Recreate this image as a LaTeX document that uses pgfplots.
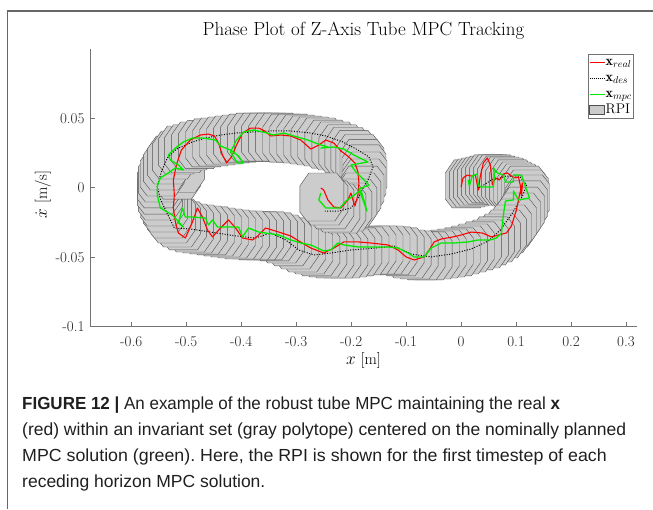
\documentclass[border=0pt]{standalone}
\usepackage{pgfplots}
\pgfplotsset{compat=1.18}
\usepackage{fontspec}
\newfontfamily\capfont{Liberation Sans}

\definecolor{rpigray}{RGB}{204,204,204}
\definecolor{rpiedge}{RGB}{80,80,80}
\definecolor{mpcgreen}{RGB}{0,235,0}

% octagonal RPI set drawn around each nominal state (about 0.08 m x 0.034 m/s)
\pgfdeclareplotmark{rpi}{%
  \pgfpathmoveto{\pgfqpoint{-22pt}{11pt}}%
  \pgfpathlineto{\pgfqpoint{-13pt}{24pt}}%
  \pgfpathlineto{\pgfqpoint{15pt}{24pt}}%
  \pgfpathlineto{\pgfqpoint{22pt}{15pt}}%
  \pgfpathlineto{\pgfqpoint{22pt}{-11pt}}%
  \pgfpathlineto{\pgfqpoint{13pt}{-24pt}}%
  \pgfpathlineto{\pgfqpoint{-15pt}{-24pt}}%
  \pgfpathlineto{\pgfqpoint{-22pt}{-15pt}}%
  \pgfpathclose
  \pgfusepathqfillstroke}

\begin{document}
\frenchspacing
\begin{tikzpicture}
\path[use as bounding box] (0,0) rectangle (653pt,509pt);
\draw[black!60, line width=1.2pt] (7.5pt,0pt) -- (7.5pt,498pt) -- (653pt,498pt);

\begin{axis}[
  at={(90pt,182.3pt)}, anchor=south west,
  scale only axis, width=547pt, height=278pt,
  xmin=-0.675, xmax=0.32, ymin=-0.1, ymax=0.1,
  clip marker paths=true,
  axis x line*=bottom, axis y line*=left,
  axis line style={black!55, line width=0.6pt},
  tick align=inside, major tick length=5pt,
  every tick/.style={black!55, line width=0.6pt},
  xtick={-0.6,-0.5,-0.4,-0.3,-0.2,-0.1,0,0.1,0.2,0.3},
  xticklabels={-0.6,-0.5,-0.4,-0.3,-0.2,-0.1,0,0.1,0.2,0.3},
  ytick={-0.1,-0.05,0,0.05},
  yticklabels={-0.1,-0.05,0,0.05},
  ticklabel style={font=\fontsize{15}{15}\selectfont, text=black!85},
  xticklabel style={anchor=base, yshift=-20pt},
  yticklabel style={anchor=east, xshift=-2pt},
  title={Phase Plot of Z-Axis Tube MPC Tracking},
  title style={font=\fontsize{19}{19}\selectfont, at={(axis description cs:0.5,1)}, anchor=base, yshift=7.5pt},
  xlabel={$x$ [m]},
  xlabel style={font=\fontsize{16}{16}\selectfont, at={(axis description cs:0.5,0)}, anchor=base, yshift=-38pt},
  ylabel={$\dot{x}$ [m/s]},
  ylabel style={font=\fontsize{16}{16}\selectfont, at={(axis description cs:-0.086,0.476)}, anchor=center},
  legend image code/.code={\draw[#1] (0pt,0pt) -- (15pt,0pt);},
  legend cell align=left,
  legend style={at={(axis description cs:0.9927,0.981)}, anchor=north east,
    draw=black!55, line width=0.5pt, fill=white,
    font=\fontsize{14}{14}\selectfont, inner xsep=0.5pt, inner ysep=1pt, row sep=2pt,
    nodes={inner sep=0.5pt, text height=10pt, text depth=3pt},
    /tikz/every even column/.append style={column sep=0pt}},
]

% RPI tube: one set per receding-horizon solve
\addplot[only marks, mark=rpi, mark options={fill=rpigray, draw=rpiedge, line width=0.4pt}, forget plot] table {
x y
0.0113 0.0027
0.0186 0.0034
0.0259 0.0041
0.0332 0.0048
0.0405 0.0055
0.0478 0.0063
0.0551 0.0063
0.0624 0.0063
0.0697 0.0055
0.0770 0.0048
0.0843 0.0041
0.0916 0.0027
0.0989 0.0012
0.1062 -0.0002
0.1135 -0.0017
0.1190 -0.0045
0.1208 -0.0081
0.1172 -0.0124
0.1117 -0.0168
0.1044 -0.0211
0.0971 -0.0254
0.0880 -0.0297
0.0788 -0.0333
0.0679 -0.0362
0.0569 -0.0383
0.0460 -0.0405
0.0332 -0.0419
0.0204 -0.0434
0.0077 -0.0448
-0.0051 -0.0462
-0.0179 -0.0470
-0.0307 -0.0477
-0.0434 -0.0484
-0.0562 -0.0491
-0.0690 -0.0491
-0.0818 -0.0484
-0.0945 -0.0477
-0.1073 -0.0462
-0.1201 -0.0455
-0.1329 -0.0448
-0.1456 -0.0448
-0.1584 -0.0448
-0.1712 -0.0455
-0.1840 -0.0462
-0.1967 -0.0470
-0.2095 -0.0477
-0.2223 -0.0477
-0.2351 -0.0477
-0.2478 -0.0470
-0.2606 -0.0462
-0.2734 -0.0448
-0.2862 -0.0434
-0.2989 -0.0412
-0.3117 -0.0390
-0.3245 -0.0369
-0.3373 -0.0354
-0.3501 -0.0347
-0.3628 -0.0347
-0.3756 -0.0347
-0.3884 -0.0340
-0.4012 -0.0340
-0.4139 -0.0333
-0.4267 -0.0326
-0.4395 -0.0319
-0.4522 -0.0311
-0.4650 -0.0304
-0.4778 -0.0297
-0.4906 -0.0290
-0.5033 -0.0275
-0.5142 -0.0254
-0.5234 -0.0225
-0.5307 -0.0189
-0.5380 -0.0146
-0.5435 -0.0103
-0.5471 -0.0060
-0.5489 -0.0017
-0.5489 0.0027
-0.5471 0.0070
-0.5142 0.0090
-0.5069 0.0140
-0.5435 0.0113
-0.5380 0.0156
-0.5307 0.0199
-0.5216 0.0235
-0.5106 0.0271
-0.4996 0.0280
-0.4869 0.0300
-0.4741 0.0310
-0.4613 0.0322
-0.4486 0.0329
-0.4358 0.0336
-0.4230 0.0343
-0.4102 0.0350
-0.3975 0.0357
-0.3847 0.0364
-0.3719 0.0364
-0.3592 0.0364
-0.3464 0.0364
-0.3336 0.0364
-0.3208 0.0357
-0.3081 0.0357
-0.2953 0.0350
-0.2825 0.0343
-0.2697 0.0336
-0.2570 0.0329
-0.2442 0.0314
-0.2314 0.0300
-0.2186 0.0280
-0.2077 0.0262
-0.1967 0.0240
-0.1876 0.0210
-0.1803 0.0175
-0.1766 0.0135
-0.1748 0.0084
-0.1766 0.0034
-0.1803 -0.0017
-0.1858 -0.0067
-0.1931 -0.0110
-0.2022 -0.0139
-0.2132 -0.0153
-0.2241 -0.0146
-0.2351 -0.0124
-0.2460 -0.0096
-0.2533 -0.0067
};

% desired trajectory
\addplot[black, line width=1pt, dash pattern=on 1pt off 1.6pt, forget plot] table {
x y
0.0329 -0.0002
0.0548 0.0055
0.0825 0.0084
0.1062 0.0084
0.1190 0.0019
0.1117 -0.0060
0.0934 -0.0182
0.0715 -0.0304
0.0496 -0.0383
0.0186 -0.0441
-0.0179 -0.0477
-0.0544 -0.0498
-0.0909 -0.0477
-0.1219 -0.0419
-0.1548 -0.0434
-0.2004 -0.0448
-0.2369 -0.0470
-0.2679 -0.0484
-0.2953 -0.0448
-0.3190 -0.0376
-0.3464 -0.0326
-0.3738 -0.0362
-0.4103 -0.0347
-0.4559 -0.0319
-0.4924 -0.0297
-0.5216 -0.0290
-0.5343 -0.0189
-0.5471 -0.0081
-0.5526 0.0012
-0.5453 0.0113
-0.5343 0.0214
-0.5179 0.0278
-0.4887 0.0329
-0.4650 0.0357
-0.4376 0.0379
-0.4102 0.0393
-0.3829 0.0400
-0.3464 0.0408
-0.3099 0.0408
-0.2734 0.0393
-0.2460 0.0372
-0.2150 0.0329
-0.1876 0.0271
-0.1675 0.0221
-0.1602 0.0149
-0.1693 0.0055
-0.1803 -0.0017
-0.1894 -0.0088
-0.2004 -0.0146
-0.2223 -0.0168
-0.2478 -0.0168
};

% measured state
\addplot[red, line width=1.1pt, line join=round, forget plot] table {
x y
0.0000 0.0005
0.0036 0.0070
0.0113 0.0091
0.0186 0.0084
0.0259 0.0091
0.0314 -0.0017
0.0350 0.0084
0.0405 0.0178
0.0478 0.0214
0.0533 0.0163
0.0569 0.0019
0.0624 0.0070
0.0697 0.0055
0.0770 0.0099
0.0843 0.0106
0.0916 0.0084
0.0989 0.0070
0.1044 0.0077
0.1080 0.0012
0.1099 -0.0060
0.1117 0.0034
0.1062 -0.0052
0.1007 -0.0160
0.0916 -0.0275
0.0825 -0.0326
0.0679 -0.0340
0.0551 -0.0354
0.0387 -0.0326
0.0186 -0.0319
0.0004 -0.0340
-0.0142 -0.0354
-0.0361 -0.0369
-0.0489 -0.0390
-0.0580 -0.0448
-0.0672 -0.0498
-0.0854 -0.0520
-0.1000 -0.0498
-0.1146 -0.0448
-0.1329 -0.0412
-0.1639 -0.0398
-0.1876 -0.0390
-0.2132 -0.0390
-0.2314 -0.0434
-0.2497 -0.0470
-0.2734 -0.0434
-0.2953 -0.0383
-0.3099 -0.0347
-0.3318 -0.0319
-0.3555 -0.0290
-0.3701 -0.0347
-0.3792 -0.0376
-0.3975 -0.0362
-0.4102 -0.0290
-0.4230 -0.0232
-0.4376 -0.0290
-0.4522 -0.0354
-0.4613 -0.0304
-0.4705 -0.0211
-0.4796 -0.0146
-0.4887 -0.0247
-0.5015 -0.0362
-0.5142 -0.0326
-0.5197 -0.0247
-0.5234 -0.0146
-0.5216 -0.0052
-0.5234 0.0055
-0.5179 0.0163
-0.5088 0.0271
-0.4924 0.0343
-0.4741 0.0379
-0.4595 0.0386
-0.4486 0.0372
-0.4413 0.0321
-0.4340 0.0235
-0.4267 0.0178
-0.4176 0.0221
-0.4085 0.0307
-0.3975 0.0393
-0.3829 0.0429
-0.3683 0.0429
-0.3573 0.0408
-0.3464 0.0372
-0.3281 0.0379
-0.3099 0.0372
-0.2916 0.0343
-0.2734 0.0278
-0.2588 0.0307
-0.2460 0.0343
-0.2314 0.0321
-0.2186 0.0264
-0.2040 0.0221
-0.1931 0.0178
-0.1876 0.0113
-0.1858 0.0034
-0.1876 -0.0052
-0.1931 -0.0132
-0.1967 -0.0088
-0.2004 -0.0038
-0.2059 -0.0088
-0.2186 -0.0146
-0.2314 -0.0139
-0.2423 -0.0088
-0.2497 -0.0017
-0.2551 -0.0002
};

% nominal MPC state
\addplot[mpcgreen, line width=1.3pt, line join=round, forget plot] table {
x y
0.0131 0.0055
0.0150 0.0012
0.0204 0.0084
0.0296 0.0099
0.0314 0.0012
0.0387 0.0005
0.0588 0.0005
0.0606 0.0084
0.0588 0.0142
0.0661 0.0106
0.0770 0.0091
0.0807 0.0041
0.0953 0.0041
0.0953 0.0091
0.1099 0.0091
0.1153 0.0027
0.1245 -0.0074
0.1044 -0.0088
0.0953 -0.0024
0.0953 -0.0088
0.0807 -0.0096
0.0770 -0.0196
0.0734 -0.0326
0.0642 -0.0362
0.0533 -0.0376
0.0314 -0.0376
0.0131 -0.0390
-0.0124 -0.0398
-0.0361 -0.0398
-0.0544 -0.0434
-0.0672 -0.0498
-0.0854 -0.0498
-0.0964 -0.0470
-0.1146 -0.0434
-0.1329 -0.0426
-0.1584 -0.0426
-0.1876 -0.0426
-0.2132 -0.0412
-0.2241 -0.0398
-0.2369 -0.0448
-0.2497 -0.0455
-0.2734 -0.0412
-0.2916 -0.0398
-0.3099 -0.0376
-0.3318 -0.0340
-0.3683 -0.0319
-0.3865 -0.0290
-0.3975 -0.0354
-0.4048 -0.0283
-0.4285 -0.0283
-0.4431 -0.0283
-0.4522 -0.0232
-0.4595 -0.0268
-0.4650 -0.0218
-0.4887 -0.0211
-0.5015 -0.0211
-0.5069 -0.0146
-0.5142 -0.0254
-0.5051 -0.0283
-0.5252 -0.0196
-0.5471 -0.0146
-0.5526 -0.0052
-0.5526 0.0012
-0.5471 0.0070
-0.5325 0.0106
-0.5197 0.0142
-0.5051 0.0127
-0.5142 0.0163
-0.5288 0.0199
-0.5325 0.0235
-0.5197 0.0285
-0.5051 0.0329
-0.4887 0.0357
-0.4686 0.0357
-0.4467 0.0343
-0.4376 0.0300
-0.4194 0.0271
-0.4048 0.0228
-0.3957 0.0178
-0.4066 0.0178
-0.4194 0.0257
-0.4085 0.0343
-0.3957 0.0400
-0.3774 0.0415
-0.3592 0.0400
-0.3409 0.0379
-0.3227 0.0393
-0.3044 0.0372
-0.2788 0.0343
-0.2551 0.0307
-0.2423 0.0293
-0.2551 0.0285
-0.2314 0.0293
-0.2132 0.0278
-0.1949 0.0235
-0.1693 0.0185
-0.2004 0.0163
-0.1913 0.0113
-0.1675 0.0019
-0.1858 -0.0009
-0.1712 -0.0168
-0.1822 -0.0017
-0.1967 -0.0060
-0.2095 -0.0096
-0.2205 -0.0146
-0.2460 -0.0146
-0.2588 -0.0088
-0.2551 -0.0038
};

\addlegendimage{red, line width=1pt}
\addlegendimage{black, line width=0.8pt, dash pattern=on 0.8pt off 1.2pt}
\addlegendimage{mpcgreen, line width=1.2pt}
\addlegendimage{legend image code/.code={\draw[fill=rpigray, draw=rpiedge, line width=0.5pt] (0pt,-4.5pt) rectangle (15pt,4.5pt);}}
\legend{$\mathbf{x}_{real}$, $\mathbf{x}_{des}$, $\mathbf{x}_{mpc}$, RPI}
\end{axis}

% figure caption
\begin{scope}[every node/.style={anchor=base west, inner sep=0pt, font=\capfont\fontsize{17.5}{21}\selectfont, text=black!88}]
\node at (22pt,100pt) {\scalebox{0.97}[1]{\textbf{FIGURE 12 |} An example of the robust tube MPC maintaining the real \textbf{x}}};
\node at (22pt,74pt) {(red) within an invariant set (gray polytope) centered on the nominally planned};
\node at (22pt,48pt) {\scalebox{1.017}[1]{MPC solution (green). Here, the RPI is shown for the first timestep of each}};
\node at (22pt,22pt) {receding horizon MPC solution.};
\end{scope}
\end{tikzpicture}
\end{document}
